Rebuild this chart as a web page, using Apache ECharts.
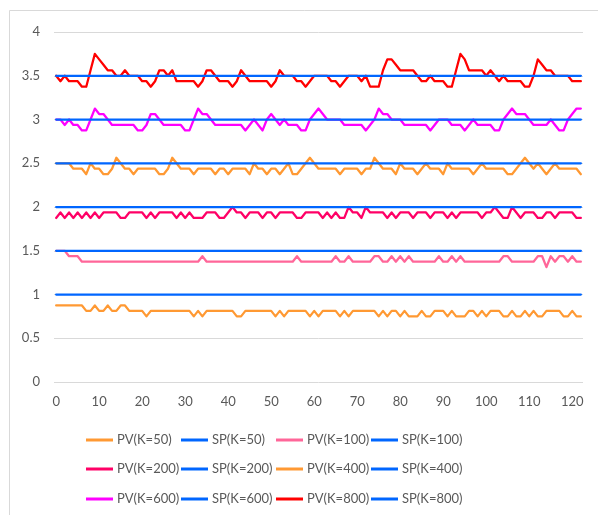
<!DOCTYPE html>
<html>
<head>
<meta charset="utf-8">
<script src="https://cdn.jsdelivr.net/npm/echarts@6/dist/echarts.min.js"></script>
<style>
html,body{margin:0;padding:0;background:#fff;}
#chart{width:598px;height:515px;}
</style>
</head>
<body>
<div id="chart"></div>
<script>
// x categories (sample index 0..122)
const categories = Array.from({length: 123}, (_, i) => String(i));
const yTicks = [0, 0.5, 1, 1.5, 2, 2.5, 3, 3.5, 4];

const seriesNames = ['PV(K=50)','SP(K=50)','PV(K=100)','SP(K=100)','PV(K=200)','SP(K=200)','PV(K=400)','SP(K=400)','PV(K=600)','SP(K=600)','PV(K=800)','SP(K=800)'];

// setpoints (constant), one per K
const spK50 = 1, spK100 = 1.5, spK200 = 2, spK400 = 2.5, spK600 = 3, spK800 = 3.5;

const pvK50 = [
0.875,0.875,0.875,0.875,0.875,0.875,0.875,0.8125,0.8125,0.875,
0.8125,0.8125,0.875,0.8125,0.8125,0.875,0.875,0.8125,0.8125,0.8125,
0.8125,0.75,0.8125,0.8125,0.8125,0.8125,0.8125,0.8125,0.8125,0.8125,
0.8125,0.8125,0.75,0.8125,0.75,0.8125,0.8125,0.8125,0.8125,0.8125,
0.8125,0.8125,0.75,0.75,0.8125,0.8125,0.8125,0.8125,0.8125,0.8125,
0.8125,0.75,0.8125,0.75,0.8125,0.8125,0.8125,0.8125,0.8125,0.75,
0.8125,0.75,0.8125,0.8125,0.8125,0.8125,0.75,0.8125,0.75,0.8125,
0.8125,0.8125,0.8125,0.8125,0.8125,0.75,0.8125,0.75,0.8125,0.8125,
0.75,0.8125,0.75,0.75,0.75,0.8125,0.75,0.75,0.8125,0.8125,
0.8125,0.75,0.8125,0.75,0.75,0.75,0.8125,0.8125,0.75,0.8125,
0.75,0.8125,0.8125,0.8125,0.75,0.75,0.8125,0.75,0.75,0.8125,
0.75,0.8125,0.75,0.75,0.8125,0.8125,0.8125,0.8125,0.75,0.75,
0.8125,0.75,0.75];

const pvK100 = [
1.5,1.5,1.5,1.4375,1.4375,1.4375,1.375,1.375,1.375,1.375,
1.375,1.375,1.375,1.375,1.375,1.375,1.375,1.375,1.375,1.375,
1.375,1.375,1.375,1.375,1.375,1.375,1.375,1.375,1.375,1.375,
1.375,1.375,1.375,1.375,1.4375,1.375,1.375,1.375,1.375,1.375,
1.375,1.375,1.375,1.375,1.375,1.375,1.375,1.375,1.375,1.375,
1.375,1.375,1.375,1.375,1.375,1.375,1.4375,1.375,1.375,1.375,
1.375,1.375,1.375,1.375,1.375,1.4375,1.375,1.375,1.4375,1.375,
1.375,1.375,1.375,1.375,1.4375,1.4375,1.375,1.375,1.4375,1.375,
1.4375,1.375,1.4375,1.375,1.375,1.375,1.375,1.375,1.375,1.4375,
1.375,1.375,1.4375,1.375,1.4375,1.375,1.375,1.375,1.375,1.375,
1.375,1.375,1.375,1.375,1.4375,1.4375,1.375,1.375,1.375,1.375,
1.375,1.375,1.4375,1.4375,1.3125,1.4375,1.375,1.4375,1.4375,1.375,
1.4375,1.375,1.375];

const pvK200 = [
1.875,1.9375,1.875,1.9375,1.875,1.9375,1.875,1.9375,1.875,1.9375,
1.875,1.9375,1.9375,1.9375,1.9375,1.875,1.875,1.9375,1.9375,1.9375,
1.9375,1.875,1.9375,1.875,1.9375,1.9375,1.9375,1.9375,1.875,1.9375,
1.875,1.9375,1.875,1.875,1.875,1.9375,1.9375,1.9375,1.875,1.875,
1.9375,2,1.9375,1.9375,1.875,1.9375,1.9375,1.9375,1.875,1.9375,
1.9375,1.875,1.9375,1.9375,1.9375,1.9375,1.875,1.875,1.9375,1.9375,
1.9375,1.9375,1.875,1.9375,1.875,1.9375,1.875,1.875,2,1.9375,
1.9375,1.875,2,1.9375,1.9375,1.9375,1.9375,1.875,1.9375,1.875,
1.9375,1.9375,1.9375,1.875,1.9375,1.9375,1.9375,1.875,1.9375,1.9375,
1.9375,1.875,1.9375,1.875,1.9375,1.9375,1.9375,1.9375,1.9375,1.875,
1.9375,1.9375,2,1.9375,1.875,1.875,2,1.9375,1.875,1.9375,
1.9375,1.9375,1.875,1.875,1.9375,1.9375,1.875,1.9375,1.9375,1.9375,
1.9375,1.875,1.875];

const pvK400 = [
2.5,2.5,2.5,2.5,2.4375,2.4375,2.4375,2.375,2.5,2.4375,
2.4375,2.375,2.375,2.4375,2.5625,2.5,2.4375,2.4375,2.375,2.4375,
2.4375,2.4375,2.4375,2.4375,2.375,2.375,2.4375,2.5625,2.5,2.4375,
2.4375,2.4375,2.375,2.4375,2.4375,2.4375,2.4375,2.375,2.4375,2.4375,
2.375,2.4375,2.4375,2.4375,2.4375,2.375,2.5,2.4375,2.4375,2.375,
2.4375,2.4375,2.375,2.4375,2.5,2.375,2.375,2.4375,2.5,2.5625,
2.5,2.4375,2.4375,2.4375,2.4375,2.4375,2.375,2.4375,2.4375,2.4375,
2.4375,2.375,2.4375,2.4375,2.5625,2.5,2.4375,2.4375,2.4375,2.375,
2.5,2.4375,2.4375,2.4375,2.375,2.4375,2.5,2.4375,2.4375,2.4375,
2.375,2.5,2.4375,2.4375,2.4375,2.4375,2.4375,2.375,2.4375,2.5,
2.4375,2.4375,2.4375,2.4375,2.4375,2.375,2.375,2.4375,2.5,2.5625,
2.5,2.4375,2.5,2.4375,2.375,2.4375,2.5,2.4375,2.4375,2.4375,
2.4375,2.4375,2.375];

const pvK600 = [
3,3,2.9375,3,2.9375,2.9375,2.875,2.875,3,3.125,
3.0625,3.0625,3,2.9375,2.9375,2.9375,2.9375,2.9375,2.9375,2.875,
2.875,2.9375,3.0625,3.0625,3,2.9375,2.9375,2.9375,2.9375,2.9375,
2.875,2.875,3,3.125,3.0625,3.0625,3,2.9375,2.9375,2.9375,
2.9375,2.9375,2.9375,2.9375,2.875,2.9375,3,2.9375,2.875,3,
3.0625,3,2.9375,3,2.9375,2.9375,2.9375,2.875,2.875,3,
3.0625,3.125,3.0625,3,3,3,3,2.9375,2.9375,2.9375,
2.9375,2.9375,2.875,2.9375,3,3.125,3.0625,3.0625,3,3,
3,2.9375,2.9375,2.9375,2.9375,2.9375,2.9375,2.875,2.9375,3,
3,3,2.9375,2.9375,2.9375,2.875,2.9375,3,2.9375,2.9375,
2.9375,2.9375,2.875,2.875,3,3.0625,3.125,3.0625,3.0625,3.0625,
3,2.9375,2.9375,2.9375,2.9375,3,2.9375,2.875,2.875,3,
3.0625,3.125,3.125];

const pvK800 = [
3.5,3.4375,3.5,3.4375,3.4375,3.4375,3.375,3.375,3.5625,3.75,
3.6875,3.625,3.5625,3.5625,3.5,3.5,3.5625,3.5,3.5,3.5,
3.4375,3.4375,3.375,3.4375,3.5625,3.5625,3.5,3.5625,3.4375,3.4375,
3.4375,3.4375,3.4375,3.375,3.4375,3.5625,3.5625,3.5,3.4375,3.4375,
3.4375,3.375,3.4375,3.5625,3.5,3.4375,3.4375,3.4375,3.4375,3.4375,
3.375,3.4375,3.5625,3.5,3.5,3.5,3.4375,3.4375,3.375,3.4375,
3.5,3.5,3.5,3.5,3.4375,3.4375,3.375,3.4375,3.5,3.5,
3.5,3.4375,3.5,3.375,3.375,3.375,3.5625,3.6875,3.6875,3.625,
3.5625,3.5625,3.5625,3.5625,3.5,3.4375,3.4375,3.5,3.4375,3.4375,
3.4375,3.375,3.375,3.5625,3.75,3.6875,3.5625,3.5625,3.5625,3.5625,
3.5,3.5625,3.5,3.4375,3.5,3.4375,3.4375,3.4375,3.4375,3.375,
3.375,3.5,3.6875,3.625,3.5625,3.5625,3.5,3.5,3.5,3.5,
3.4375,3.4375,3.4375];

const constantLine = (v) => categories.map(() => v);

const seriesData = [
  pvK50, constantLine(spK50),
  pvK100, constantLine(spK100),
  pvK200, constantLine(spK200),
  pvK400, constantLine(spK400),
  pvK600, constantLine(spK600),
  pvK800, constantLine(spK800)
];

const colors = ['#FF9933','#0066FF','#FF6699','#0066FF','#FF0066','#0066FF',
                '#FF9933','#0066FF','#FF00FF','#0066FF','#FF0000','#0066FF'];

const FONT = 'Lato, "Liberation Sans", sans-serif';
const TXT = '#595959';

const series = seriesNames.map((name, k) => ({
  name: name,
  type: 'line',
  data: seriesData[k],
  symbol: 'none',
  showSymbol: false,
  smooth: false,
  color: colors[k],
  lineStyle: { color: colors[k], width: 2.25, cap: 'round', join: 'round' },
  emphasis: { disabled: true },
  z: 2 + k
}));

// legend laid out as a 4-column x 3-row grid
const colX = [86, 181, 276, 371];
const rowY = [440, 469, 499];
const legends = seriesNames.map((name, k) => ({
  data: [name],
  left: colX[k % 4],
  top: rowY[Math.floor(k / 4)] - 8,
  padding: 0,
  icon: 'rect',
  itemWidth: 27,
  itemHeight: 3,
  selectedMode: false,
  textStyle: { color: TXT, fontSize: 13, fontFamily: FONT, lineHeight: 16, padding: [0, 0, 0, -1] }
}));

const chart = echarts.init(document.getElementById('chart'), null, { renderer: 'canvas' });
chart.setOption({
  animation: false,
  backgroundColor: '#ffffff',
  grid: { left: 54, right: 15, top: 32, bottom: 133, containLabel: false },
  xAxis: {
    type: 'category',
    data: categories,
    boundaryGap: true,
    axisLine: { show: false },
    axisTick: { show: false },
    splitLine: { show: false },
    axisLabel: { interval: 9, color: TXT, fontSize: 13, fontFamily: FONT, margin: 13 }
  },
  yAxis: {
    type: 'value',
    min: yTicks[0],
    max: yTicks[yTicks.length - 1],
    interval: 0.5,
    axisLine: { show: false },
    axisTick: { show: false },
    splitLine: { lineStyle: { color: '#d9d9d9', width: 1 } },
    axisLabel: { color: TXT, fontSize: 13, fontFamily: FONT, margin: 14 }
  },
  legend: legends,
  graphic: [{
    type: 'rect',
    shape: { x: 9.5, y: 10.5, width: 700, height: 700 },
    style: { fill: 'none', stroke: '#d9d9d9', lineWidth: 1 },
    silent: true,
    z: -1
  }],
  series: series
});
</script>
</body>
</html>
